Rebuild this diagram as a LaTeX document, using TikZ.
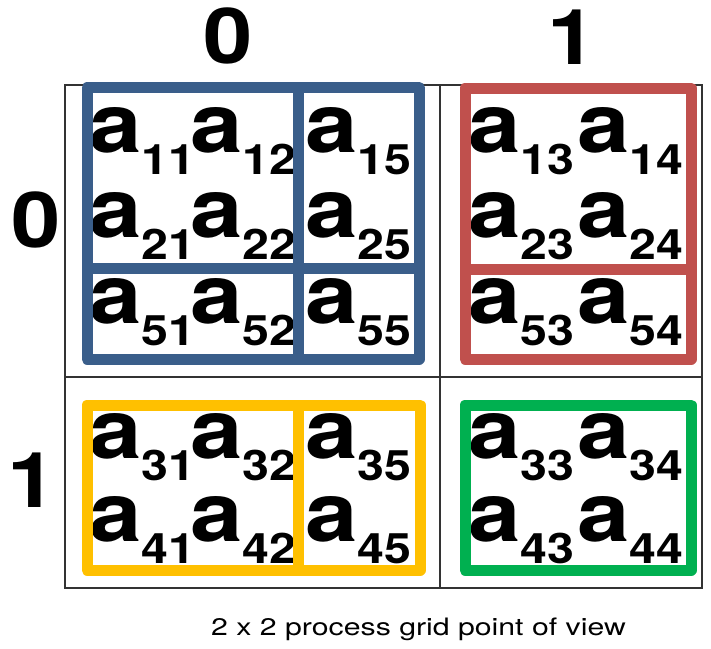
\documentclass[tikz,border=0pt]{standalone}
\usepackage{fontspec}
\usepackage{graphicx}
\setmainfont{TeX Gyre Heros}
\definecolor{bbox}{RGB}{58,94,138}
\definecolor{rbox}{RGB}{192,80,77}
\definecolor{ybox}{RGB}{255,192,0}
\definecolor{gbox}{RGB}{0,176,80}
\newcommand{\matentry}[1]{\scalebox{1.15}[1]{\bfseries\fontsize{82}{82}\selectfont a\raisebox{-22pt}{\fontsize{42}{42}\selectfont #1}}}
\begin{document}
\begin{tikzpicture}[x=1pt,y=-1pt,
  ent/.style={inner sep=0pt,anchor=base west},
  lbl/.style={inner sep=0pt,anchor=center,font=\bfseries\fontsize{77}{77}\selectfont,xscale=1.15},
  gridline/.style={draw=black!80,line width=2pt},
  colbox/.style={line width=11pt,line join=round}]
\useasboundingbox (0,0) rectangle (711,648);
% grid
\draw[gridline] (65,85) rectangle (702,588);
\draw[gridline] (440,85) -- (440,588);
\draw[gridline] (65,377) -- (702,377);
% labels
\node[lbl] (c0) at (228.5,36) {0};
\node[lbl] (c1) at (572,37) {1};
\node[lbl] (r0) at (36.5,220) {0};
\node[lbl] (r1) at (32,480) {1};
% entries
\foreach \r/\y in {1/152,2/237,5/323,3/458,4/541}{
  \foreach \c/\x in {1/89,2/190,5/305,3/468,4/577}{
    \node[ent] (a\r\c) at (\x,\y) {\matentry{\r\c}};
  }
}
% coloured blocks
\draw[colbox,draw=bbox] (87,87.5) rectangle (419,359);
\draw[colbox,draw=bbox] (298,87.5) -- (298,359);
\draw[colbox,draw=bbox] (87,268.5) -- (419,268.5);
\draw[colbox,draw=rbox] (465,88) rectangle (691,359);
\draw[colbox,draw=rbox] (465,269) -- (691,269);
\draw[colbox,draw=ybox] (87,405) rectangle (420,570);
\draw[colbox,draw=ybox] (298.5,405) -- (298.5,570);
\draw[colbox,draw=gbox] (465,405) rectangle (691,570);
% caption
\node[inner sep=0pt,anchor=base] (cap) at (418.5,635) {\scalebox{1.26}[1]{\fontsize{24}{24}\selectfont 2 x 2 process grid point of view}};
\end{tikzpicture}
\end{document}
